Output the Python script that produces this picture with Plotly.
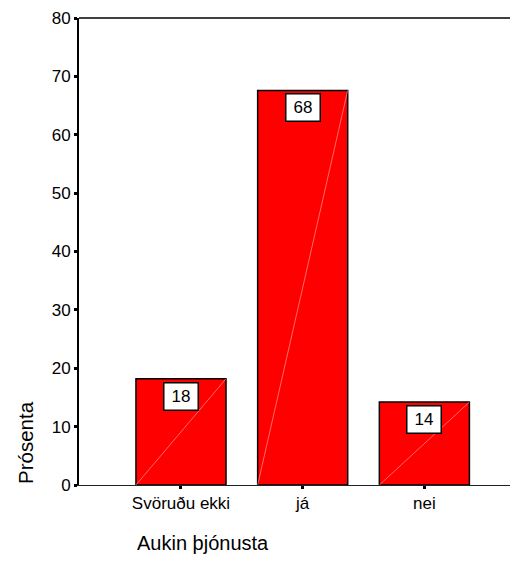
import plotly.graph_objects as go

categories = ["Svöruðu ekki", "já", "nei"]
values = [18.2, 67.6, 14.2]
labels = ["18", "68", "14"]
y_ticks = [0, 10, 20, 30, 40, 50, 60, 70, 80]

BAR_W = 0.74
FONT = "Liberation Sans, Arial, sans-serif"

fig = go.Figure()
fig.add_trace(go.Bar(
    x=list(range(len(categories))), y=values, width=BAR_W,
    marker=dict(color="#ff0000", line=dict(color="black", width=1.5)),
    showlegend=False, hoverinfo="skip",
))

shapes = []
annotations = []
for i, (v, lab) in enumerate(zip(values, labels)):
    shapes.append(dict(type="line", xref="x", yref="y",
                       x0=i - BAR_W / 2, y0=0, x1=i + BAR_W / 2, y1=v,
                       line=dict(color="rgba(255,190,190,0.8)", width=0.7),
                       layer="above"))
    annotations.append(dict(x=i, y=v, xref="x", yref="y", text=lab,
                            showarrow=False, yanchor="top", yshift=-3,
                            bgcolor="white", bordercolor="black", borderwidth=1.5,
                            width=33, height=26, borderpad=0,
                            font=dict(family=FONT, size=17, color="black")))

# top frame line
shapes.append(dict(type="line", xref="paper", yref="paper", x0=0, x1=1, y0=1, y1=1,
                   line=dict(color="black", width=1.5)))

annotations.append(dict(xref="paper", yref="paper", x=-0.121, y=0.092,
                        text="Prósenta", textangle=-90, showarrow=False,
                        xanchor="center", yanchor="middle",
                        font=dict(family=FONT, size=20.5, color="black")))
annotations.append(dict(xref="paper", yref="paper", x=0.125, y=-0.124,
                        text="Aukin þjónusta", showarrow=False,
                        xanchor="left", yanchor="middle",
                        font=dict(family=FONT, size=20, color="black")))

fig.update_layout(
    width=518, height=571,
    margin=dict(l=71, r=0, t=10, b=94),
    paper_bgcolor="white", plot_bgcolor="white",
    shapes=shapes, annotations=annotations,
    xaxis=dict(range=[-0.838, 2.835], tickmode="array",
               tickvals=list(range(len(categories))), ticktext=categories,
               showline=True, linecolor="#222", linewidth=1,
               ticks="outside", ticklen=3, tickwidth=3, tickcolor="black",
               showgrid=False, zeroline=False,
               tickfont=dict(family=FONT, size=17, color="black")),
    yaxis=dict(range=[0, 80], tickmode="array", tickvals=y_ticks,
               showline=True, linecolor="black", linewidth=2,
               ticks="outside", ticklen=3, tickwidth=3, tickcolor="black",
               showgrid=False, zeroline=False,
               tickfont=dict(family=FONT, size=17, color="black")),
)

fig.write_html("out.html")
